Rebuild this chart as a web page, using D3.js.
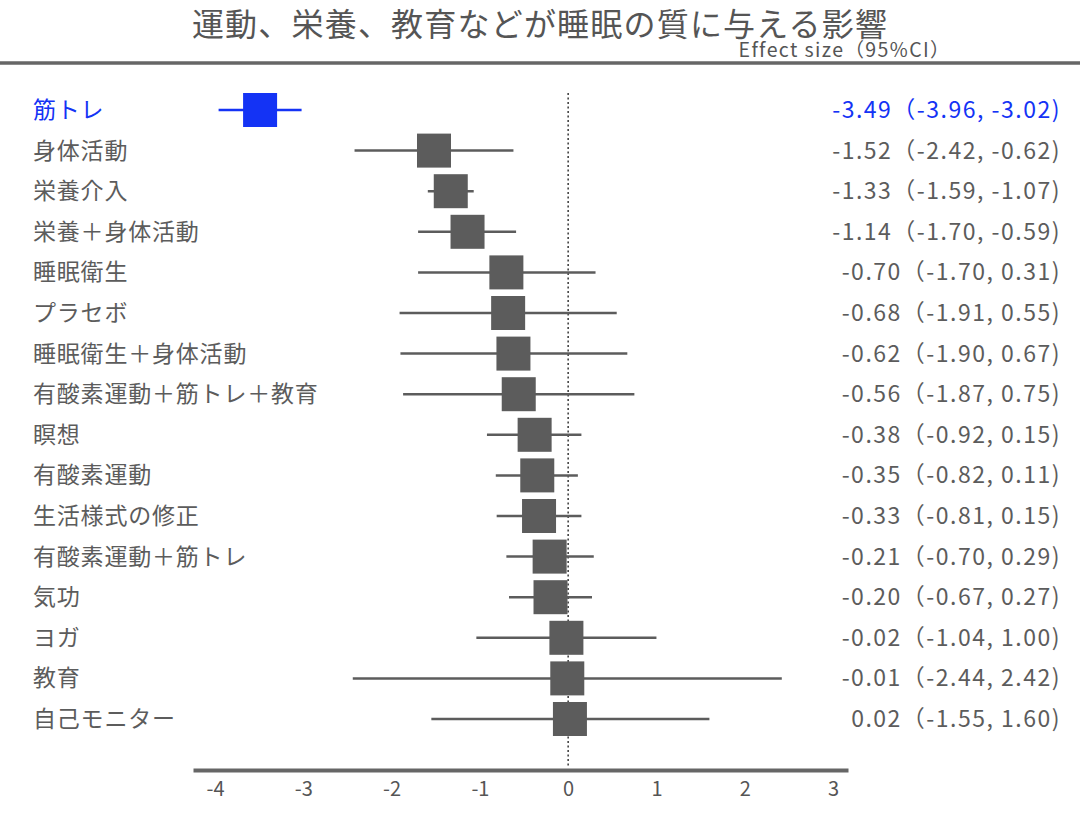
<!DOCTYPE html>
<html>
<head>
<meta charset="utf-8">
<script src="https://cdn.jsdelivr.net/npm/d3@7"></script>
<style>
  body { margin: 0; background: #fff; }
  text { font-family: "Noto Sans CJK JP", "Noto Sans", sans-serif; fill: #555; }
</style>
</head>
<body>
<script>
const width = 1080, height = 816;

const labels = ["筋トレ", "身体活動", "栄養介入", "栄養＋身体活動", "睡眠衛生", "プラセボ",
  "睡眠衛生＋身体活動", "有酸素運動＋筋トレ＋教育", "瞑想", "有酸素運動", "生活様式の修正",
  "有酸素運動＋筋トレ", "気功", "ヨガ", "教育", "自己モニター"];
const est = [-3.49, -1.52, -1.33, -1.14, -0.70, -0.68, -0.62, -0.56, -0.38, -0.35, -0.33, -0.21, -0.20, -0.02, -0.01, 0.02];
const lower = [-3.96, -2.42, -1.59, -1.70, -1.70, -1.91, -1.90, -1.87, -0.92, -0.82, -0.81, -0.70, -0.67, -1.04, -2.44, -1.55];
const upper = [-3.02, -0.62, -1.07, -0.59, 0.31, 0.55, 0.67, 0.75, 0.15, 0.11, 0.15, 0.29, 0.27, 1.00, 2.42, 1.60];
const ticks = [-4, -3, -2, -1, 0, 1, 2, 3];

const highlight = "筋トレ";
const blue = "#1433f5", grey = "#5c5c5c";

const rows = labels.map((d, i) => ({ label: d, est: est[i], lo: lower[i], hi: upper[i] }));

const svg = d3.select("body").append("svg")
  .attr("width", width)
  .attr("height", height);

const x = d3.scaleLinear()
  .domain([-4.25, 3.17])
  .range([193, 848]);

const y = d3.scalePoint()
  .domain(labels)
  .range([110, 719]);

// title
svg.append("text")
  .attr("x", 540)
  .attr("y", 36)
  .attr("text-anchor", "middle")
  .attr("font-size", 32)
  .attr("letter-spacing", 1.2)
  .text("運動、栄養、教育などが睡眠の質に与える影響");

svg.append("text")
  .attr("x", 951)
  .attr("y", 57)
  .attr("text-anchor", "end")
  .attr("font-size", 19.5)
  .attr("letter-spacing", 1.4)
  .text("Effect size（95%CI）");

svg.append("line")
  .attr("x1", 0).attr("x2", width)
  .attr("y1", 63).attr("y2", 63)
  .attr("stroke", "#666")
  .attr("stroke-width", 3.5);

// zero reference
svg.append("line")
  .attr("x1", x(0)).attr("x2", x(0))
  .attr("y1", 93).attr("y2", 768)
  .attr("stroke", "#444")
  .attr("stroke-width", 1.6)
  .attr("stroke-dasharray", "2,2.5");

const row = svg.selectAll("g.row")
  .data(rows)
  .enter()
    .append("g")
    .attr("class", "row")
    .attr("transform", d => `translate(0,${y(d.label)})`);

const col = d => d.label === highlight ? blue : grey;

row.append("line")
  .attr("x1", d => x(d.lo))
  .attr("x2", d => x(d.hi))
  .attr("stroke", col)
  .attr("stroke-width", 2.5);

row.append("rect")
  .attr("x", d => x(d.est) - 17)
  .attr("y", -17)
  .attr("width", 34)
  .attr("height", 34)
  .attr("fill", col);

row.append("text")
  .attr("x", 33)
  .attr("dy", "0.35em")
  .attr("font-size", 23)
  .attr("letter-spacing", 0.8)
  .style("fill", col)
  .text(d => d.label);

row.append("text")
  .attr("x", 1061)
  .attr("dy", "0.35em")
  .attr("text-anchor", "end")
  .attr("font-size", 23)
  .attr("letter-spacing", 1.5)
  .style("fill", col)
  .text(d => `${d.est.toFixed(2)}（${d.lo.toFixed(2)}, ${d.hi.toFixed(2)})`);

// x axis
const axis = svg.append("g")
  .attr("transform", "translate(0,770)")
  .call(d3.axisBottom(x).tickValues(ticks).tickSize(0).tickPadding(12).tickFormat(d => String(d)));

axis.select(".domain")
  .attr("stroke", "#666")
  .attr("stroke-width", 4);

axis.selectAll("text")
  .attr("font-size", 20)
  .style("fill", "#555")
  .style("font-family", "\"Noto Sans CJK JP\", sans-serif");
</script>
</body>
</html>
